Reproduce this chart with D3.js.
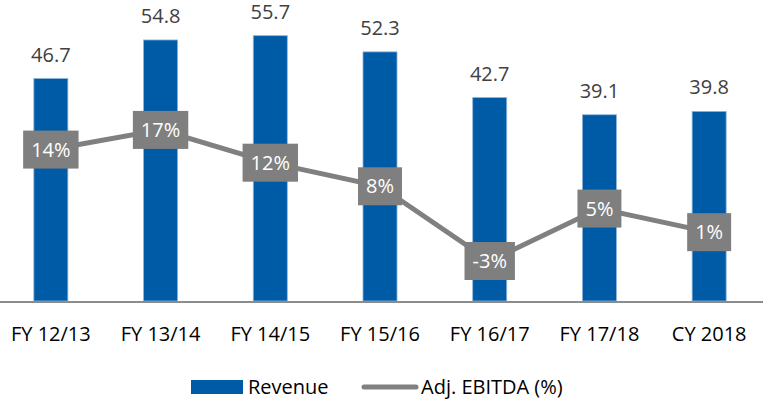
<!DOCTYPE html>
<html>
<head>
<meta charset="utf-8">
<script src="https://cdn.jsdelivr.net/npm/d3@7"></script>
<style>
  body { margin: 0; background: #fff; }
  svg { display: block; font-family: "Open Sans", sans-serif; }
</style>
</head>
<body>
<div id="chart"></div>
<script>
(function () {
    var width = 763,
        height = 404;

    var years = ["FY 12/13", "FY 13/14", "FY 14/15", "FY 15/16", "FY 16/17", "FY 17/18", "CY 2018"];
    var revenue = [46.7, 54.8, 55.7, 52.3, 42.7, 39.1, 39.8];
    var ebitda = [14, 17, 12, 8.4, -3, 5, 1.4];

    var svg = d3.select("#chart")
        .append("svg")
        .attr("width", width)
        .attr("height", height);

    var x = d3.scaleBand().domain(years).range([-4, 764]).paddingInner(0.69).paddingOuter(0.345);
    var y = d3.scaleLinear().domain([0, 60]).range([301, 15.2]);
    var y2 = d3.scaleLinear().domain([-9.1, 34.5]).range([301, 15.2]);

    // bars
    svg.selectAll(".bar")
        .data(revenue)
        .enter().append("rect")
        .attr("class", "bar")
        .attr("x", function (d, i) { return x(years[i]); })
        .attr("width", x.bandwidth())
        .attr("y", function (d) { return y(d); })
        .attr("height", function (d) { return y(0) - y(d); })
        .attr("fill", "#005ba6")
        .attr("stroke", "#8db3da")
        .attr("stroke-width", 0.8);

    svg.selectAll(".bar-label")
        .data(revenue)
        .enter().append("text")
        .attr("class", "bar-label")
        .attr("x", function (d, i) { return x(years[i]) + x.bandwidth() / 2; })
        .attr("y", function (d) { return y(d) - 17; })
        .attr("text-anchor", "middle")
        .attr("font-size", 20)
        .attr("fill", "#404040")
        .text(function (d) { return d.toFixed(1); });

    // baseline
    svg.append("line")
        .attr("x1", 0).attr("x2", width)
        .attr("y1", 302).attr("y2", 302)
        .attr("stroke", "#8c8c8c")
        .attr("stroke-width", 2);

    // x axis labels
    var xAxis = d3.axisBottom(x).tickSize(0).tickPadding(24);
    var gx = svg.append("g")
        .attr("transform", "translate(0,303)")
        .call(xAxis);
    gx.select(".domain").remove();
    gx.selectAll("text")
        .attr("font-family", "Open Sans, sans-serif")
        .attr("font-size", 20)
        .attr("fill", "#000");

    // ebitda line
    var line = d3.line()
        .x(function (d, i) { return x(years[i]) + x.bandwidth() / 2; })
        .y(function (d) { return y2(d); });

    svg.append("path")
        .datum(ebitda)
        .attr("d", line)
        .attr("fill", "none")
        .attr("stroke", "#808080")
        .attr("stroke-width", 5);

    var labels = svg.selectAll(".pt-label")
        .data(ebitda)
        .enter().append("g")
        .attr("class", "pt-label")
        .attr("transform", function (d, i) {
            return "translate(" + (x(years[i]) + x.bandwidth() / 2) + "," + y2(d) + ")";
        });

    labels.append("rect").attr("fill", "#7f7f7f");
    labels.append("text")
        .attr("text-anchor", "middle")
        .attr("dy", "0.36em")
        .attr("font-size", 20)
        .attr("fill", "#fff")
        .text(function (d) { return Math.round(d) + "%"; });

    labels.each(function () {
        var g = d3.select(this);
        var w = g.select("text").node().getComputedTextLength() + 16;
        g.select("rect")
            .attr("x", -w / 2).attr("width", w)
            .attr("y", -19).attr("height", 38);
    });

    // legend
    var legend = svg.append("g");
    legend.append("rect")
        .attr("x", 191).attr("y", 380)
        .attr("width", 52).attr("height", 14)
        .attr("fill", "#005ba6");
    legend.append("text")
        .attr("x", 248).attr("y", 394)
        .attr("font-size", 20)
        .attr("fill", "#000")
        .text("Revenue");
    legend.append("line")
        .attr("x1", 364).attr("x2", 416)
        .attr("y1", 387).attr("y2", 387)
        .attr("stroke", "#808080")
        .attr("stroke-width", 5)
        .attr("stroke-linecap", "round");
    legend.append("text")
        .attr("x", 421).attr("y", 394)
        .attr("font-size", 20)
        .attr("fill", "#000")
        .text("Adj. EBITDA (%)");
})();
</script>
</body>
</html>
